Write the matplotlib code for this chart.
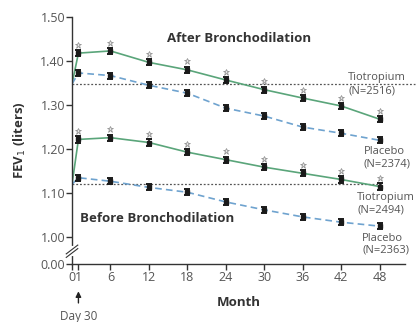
import matplotlib
matplotlib.use("Agg")
import matplotlib.pyplot as plt

months = [1, 6, 12, 18, 24, 30, 36, 42, 48]
tio_after = [1.418, 1.423, 1.397, 1.380, 1.357, 1.335, 1.316, 1.298, 1.268]
pla_after = [1.373, 1.367, 1.345, 1.327, 1.293, 1.275, 1.250, 1.236, 1.220]
tio_before = [1.222, 1.226, 1.215, 1.193, 1.176, 1.159, 1.145, 1.131, 1.115]
pla_before = [1.135, 1.127, 1.113, 1.102, 1.080, 1.062, 1.046, 1.034, 1.025]
baseline_after = 1.348
baseline_before = 1.120
err = 0.007
xticks = [0, 1, 6, 12, 18, 24, 30, 36, 42, 48]
ytick_vals = [1.00, 1.10, 1.20, 1.30, 1.40, 1.50]
ytick_labels = ["1.00", "1.10", "1.20", "1.30", "1.40", "1.50"]
zero_pos = 0.939  # display position of the 0.00 tick (broken axis)

font = "Open Sans"
gray = "#555555"
green = "#5aa57a"
blue = "#6fa3cf"

fig = plt.figure(figsize=(4.17, 3.22), dpi=100)
ax = fig.add_axes([0.1727, 0.1801, 0.799, 0.767])

# baselines
ax.plot([0, 53.5], [baseline_after] * 2, ls=(0, (1.5, 1.5)), color="#555555", lw=0.9, clip_on=False, zorder=1)
ax.plot([0, 48.5], [baseline_before] * 2, ls=(0, (1.5, 1.5)), color="#555555", lw=0.9, clip_on=False, zorder=1)

for vals, base, col, ls, star in [
    (tio_after, baseline_after, green, "-", True),
    (pla_after, baseline_after, blue, (0, (4, 2.5)), False),
    (tio_before, baseline_before, green, "-", True),
    (pla_before, baseline_before, blue, (0, (4, 2.5)), False),
]:
    ax.plot([0] + months, [base] + vals, color=col, ls=ls, lw=1.2, zorder=2)
    ax.errorbar(months, vals, yerr=err, fmt="s", ms=3, color="#1a1a1a",
                ecolor="#1a1a1a", elinewidth=1.2, capsize=2.5, capthick=1.4, zorder=3)
    if star:
        ax.plot(months, [v + 0.019 for v in vals], ls="none", marker="*", ms=5,
                mfc="#e6e6e6", mec="#8a8a8a", mew=0.5, zorder=3)

ax.set_xlim(0, 52)
ax.set_ylim(zero_pos, 1.50)
ax.set_xticks(xticks)
ax.set_xticklabels([str(t) for t in xticks], fontsize=9, color=gray, family=font)
ax.set_yticks([zero_pos] + ytick_vals)
ax.set_yticklabels(["0.00"] + ytick_labels, fontsize=9, color=gray, family=font)
ax.tick_params(axis="both", direction="out", length=4, width=1, color="#333333", pad=1)
for s in ["top", "right"]:
    ax.spines[s].set_visible(False)
for s in ["left", "bottom"]:
    ax.spines[s].set_color("#333333")
    ax.spines[s].set_linewidth(1)

# break marks on the y axis
ax.plot([0, 0], [0.961, 0.975], color="white", lw=3, clip_on=False, zorder=5)
for dy in (-0.004, 0.004):
    ax.plot([-0.9, 0.9], [0.958 + dy, 0.978 + dy], color="#333333", lw=0.8, clip_on=False, zorder=6)

ax.set_ylabel("FEV$_1$ (liters)", fontsize=9.5, fontweight="bold", color="#333333", family=font, labelpad=9)
ax.set_xlabel("Month", fontsize=9.5, fontweight="bold", color="#333333", family=font, labelpad=9)

ax.text(26.0, 1.452, "After Bronchodilation", fontsize=9.5, fontweight="bold", color="#333333",
        family=font, ha="center", va="center")
ax.text(1.3, 1.043, "Before Bronchodilation", fontsize=9.5, fontweight="bold", color="#333333",
        family=font, ha="left", va="center")

lab = dict(fontsize=8, color=gray, family=font, ha="left", clip_on=False)
ax.text(43.1, 1.350, "Tiotropium", va="bottom", **lab)
ax.text(43.1, 1.344, "(N=2516)", va="top", **lab)
ax.text(45.5, 1.180, "Placebo\n(N=2374)", va="center", linespacing=1.15, **lab)
ax.text(44.5, 1.076, "Tiotropium\n(N=2494)", va="center", linespacing=1.15, **lab)
ax.text(45.3, 0.984, "Placebo\n(N=2363)", va="center", linespacing=1.15, **lab)

ax.annotate("Day 30", xy=(1, 0.877), xytext=(1, 0.820),
            ha="center", va="center", fontsize=8.5, color=gray, family=font,
            annotation_clip=False,
            arrowprops=dict(arrowstyle="-|>", color="#222222", lw=1, mutation_scale=8,
                            shrinkA=3, shrinkB=0))

fig.savefig("out.png", dpi=100, facecolor="white")
